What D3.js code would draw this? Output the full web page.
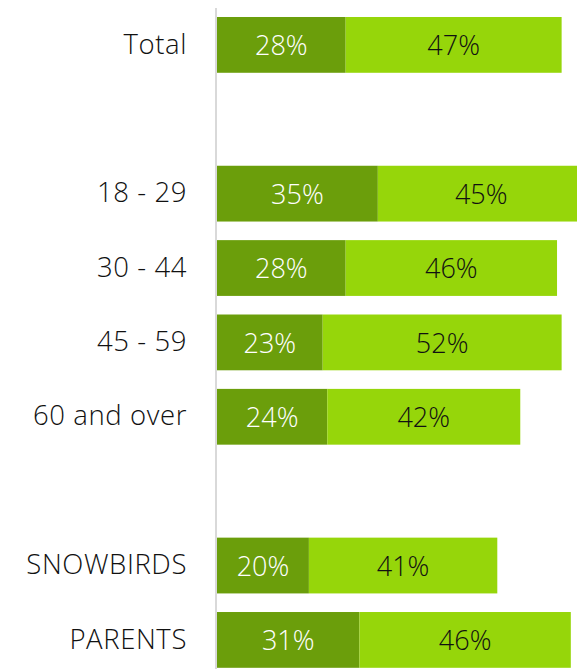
<!DOCTYPE html>
<html><head><meta charset="utf-8">
<script src="https://cdn.jsdelivr.net/npm/d3@7"></script>
<style>html,body{margin:0;padding:0;background:#fff;overflow:hidden}</style>
</head><body>
<svg id="chart" width="577" height="669"></svg>
<script>
const categories = ["Total", "", "18 - 29", "30 - 44", "45 - 59", "60 and over", "", "SNOWBIRDS", "PARENTS"];
const darkValues = [28, null, 35, 28, 23, 24, null, 20, 31];
const lightValues = [47, null, 45, 46, 52, 42, null, 41, 46];

const svg = d3.select("#chart");
const font = "'Open Sans', 'Noto Sans', sans-serif";
const x0 = 217;
const x = d3.scaleLinear().domain([0, 100]).range([x0, x0 + 459.5]);
const ids = categories.map((c, i) => i);
const y = d3.scaleBand().domain(ids).range([7.7, 677.1]).paddingInner(0.25).paddingOuter(0.125);

const rows = ids.filter(i => darkValues[i] != null);
const g = svg.append("g");

rows.forEach(i => {
  const d = darkValues[i], l = lightValues[i];
  const yy = y(i), h = y.bandwidth();
  g.append("rect").attr("x", x(0)).attr("y", yy).attr("width", x(d) - x(0)).attr("height", h).attr("fill", "#6b9e0b");
  g.append("rect").attr("x", x(d)).attr("y", yy).attr("width", x(d + l) - x(d)).attr("height", h).attr("fill", "#96d60a");
  g.append("text").attr("x", (x(0) + x(d)) / 2).attr("y", yy + h / 2 + 1).attr("dy", "0.35em")
    .attr("text-anchor", "middle").attr("fill", "#fff").attr("font-family", font).attr("font-weight", 300).attr("font-size", 27)
    .text(d + "%");
  g.append("text").attr("x", (x(d) + x(d + l)) / 2).attr("y", yy + h / 2 + 1).attr("dy", "0.35em")
    .attr("text-anchor", "middle").attr("fill", "#111").attr("font-family", font).attr("font-weight", 300).attr("font-size", 27)
    .text(l + "%");
  g.append("text").attr("x", 187).attr("y", yy + h / 2 - 1).attr("dy", "0.35em")
    .attr("text-anchor", "end").attr("fill", "#111").attr("font-family", font).attr("font-weight", 300).attr("font-size", 27.5)
    .attr("letter-spacing", 0.6)
    .text(categories[i]);
});

svg.append("line").attr("x1", 216).attr("x2", 216).attr("y1", 8).attr("y2", 669)
  .attr("stroke", "#d9d9d9").attr("stroke-width", 2);
</script>
</body></html>
